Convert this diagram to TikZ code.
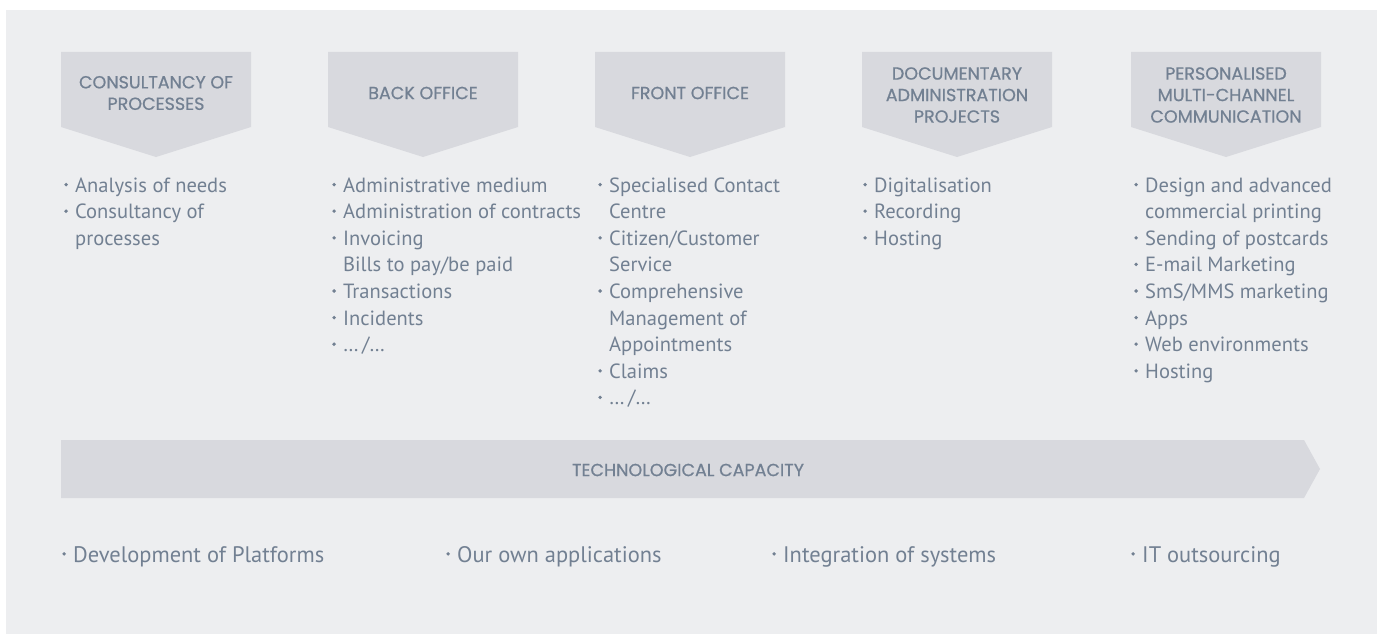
\documentclass[tikz,border=0pt]{standalone}
\usepackage{fontspec}
\usepackage{graphicx}
\setmainfont{PT Sans}
\newfontfamily\headfont[FakeBold=0.7]{Poppins}
\definecolor{bgc}{RGB}{237,238,240}
\definecolor{shapec}{RGB}{216,217,222}
\definecolor{txtc}{RGB}{114,128,146}
\newlength\calw
\newcommand\bul{\makebox[11pt][l]{\tikz[baseline=0pt]\fill[txtc] (1.9pt,0.36em) circle (1.9pt);}}
\newcommand\nob{\hspace*{11pt}}
\begin{document}
\settowidth\calw{\headfont\fontsize{10}{12}\selectfont CONSULTANCY OF}
\pgfmathsetmacro\hs{1540/\calw}
\settowidth\calw{\fontsize{10}{12}\selectfont Specialised Contact}
\pgfmathsetmacro\bs{1710/\calw}
\settowidth\calw{\fontsize{10}{12}\selectfont Development of Platforms}
\pgfmathsetmacro\fs{2510/\calw}
\begin{tikzpicture}[x=1pt,y=-1pt]
\tikzset{
  chev/.style={fill=shapec, draw=none},
  head/.style={font=\headfont\fontsize{\hs}{21.5}\selectfont, text=txtc, align=center, inner sep=0pt},
  lst/.style={anchor=base west, inner sep=0pt, text=txtc, font=\fontsize{\bs}{26.6}\selectfont},
  bot/.style={anchor=base west, inner sep=0pt, text=txtc, font=\fontsize{\fs}{24}\selectfont}
}
\useasboundingbox (0,0) rectangle (1383,634);
\fill[white] (0,0) rectangle (1383,634);
\fill[bgc] (6,10) rectangle (1377,634);

% header chevrons
\foreach \xx/\yy/\lab [count=\k] in {61/93/{CONSULTANCY OF\\PROCESSES}, 328/93/{BACK OFFICE}, 595/93/{FRONT OFFICE}, 862/95/{DOCUMENTARY\\ADMINISTRATION\\PROJECTS}, 1131/95/{PERSONALISED\\MULTI-CHANNEL\\COMMUNICATION}} {
  \fill[chev] (\xx,52) -- ++(190,0) -- ++(0,75) -- ++(-95,30) -- ++(-95,-30) -- cycle;
  \node[head] (h\k) at (\xx+95,\yy) {\lab};
}

% lists
\node[lst] (c1) at (64,192) {\begin{tabular}[t]{@{}l@{}}
\bul Analysis of needs\\
\bul Consultancy of\\
\nob processes
\end{tabular}};
\node[lst] (c2) at (332,192) {\begin{tabular}[t]{@{}l@{}}
\bul Administrative medium\\
\bul Administration of contracts\\
\bul Invoicing\\
\nob Bills to pay/be paid\\
\bul Transactions\\
\bul Incidents\\
\bul …\,/…
\end{tabular}};
\node[lst] (c3) at (598,192) {\begin{tabular}[t]{@{}l@{}}
\bul Specialised Contact\\
\nob Centre\\
\bul Citizen/Customer\\
\nob Service\\
\bul Comprehensive\\
\nob Management of\\
\nob Appointments\\
\bul Claims\\
\bul …\,/…
\end{tabular}};
\node[lst] (c4) at (863,192) {\begin{tabular}[t]{@{}l@{}}
\bul Digitalisation\\
\bul Recording\\
\bul Hosting
\end{tabular}};
\node[lst] (c5) at (1134,192) {\begin{tabular}[t]{@{}l@{}}
\bul Design and advanced\\
\nob commercial printing\\
\bul Sending of postcards\\
\bul E-mail Marketing\\
\bul SmS/MMS marketing\\
\bul Apps\\
\bul Web environments\\
\bul Hosting
\end{tabular}};

% technological capacity arrow
\fill[chev] (61,440) -- (1304,440) -- (1320,469) -- (1304,498) -- (61,498) -- cycle;
\node[head] (tc) at (688,470) {TECHNOLOGICAL CAPACITY};

% bottom items
\node[bot] (b1) at (62,562) {\bul Development of Platforms};
\node[bot] (b2) at (446,562) {\bul Our own applications};
\node[bot] (b3) at (772,562) {\bul Integration of systems};
\node[bot] (b4) at (1131,562) {\bul IT outsourcing};
\end{tikzpicture}
\end{document}
